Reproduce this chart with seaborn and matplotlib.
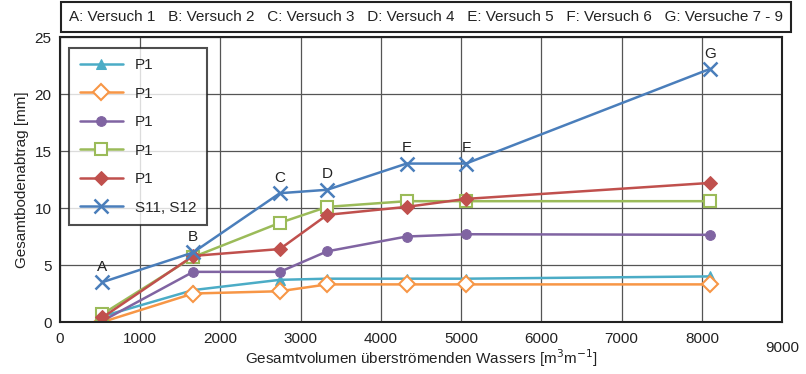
import matplotlib
matplotlib.use("Agg")
import matplotlib.pyplot as plt
import seaborn as sns
import pandas as pd

sns.set_theme(style="white")
plt.rcParams['font.family'] = ['Liberation Sans', 'DejaVu Sans']

x_vals = [530, 1660, 2740, 3330, 4320, 5060, 8100]
point_labels = ["A", "B", "C", "D", "E", "F", "G"]
series_names = ["P1", "P1 ", "P1  ", "P1   ", "P1    ", "S11, S12"]
cyan_tri = [0.5, 2.8, 3.7, 3.8, 3.8, 3.8, 4.0]
orange_dia = [0.0, 2.5, 2.7, 3.3, 3.3, 3.3, 3.3]
purple_circ = [0.1, 4.4, 4.4, 6.2, 7.5, 7.7, 7.65]
green_sq = [0.7, 5.7, 8.7, 10.1, 10.6, 10.6, 10.6]
red_dia = [0.4, 5.8, 6.4, 9.4, 10.1, 10.8, 12.2]
blue_x = [3.5, 6.1, 11.3, 11.6, 13.9, 13.9, 22.2]
header = "A: Versuch 1   B: Versuch 2   C: Versuch 3   D: Versuch 4   E: Versuch 5   F: Versuch 6   G: Versuche 7 - 9"

series = [cyan_tri, orange_dia, purple_circ, green_sq, red_dia, blue_x]
colors = ["#4BACC6", "#F79646", "#8064A2", "#9BBB59", "#C0504D", "#4A7EBB"]
markers = ["^", "D", "o", "s", "D", "x"]
filled = [True, False, True, False, True, True]
msizes = [7, 8, 7, 8, 7, 10]

fig = plt.figure(figsize=(8.06, 3.74), dpi=100)
ax = fig.add_axes([0.0744, 0.139, 0.896, 0.762])

for name, vals, c, m, f, ms in zip(series_names, series, colors, markers, filled, msizes):
    df = pd.DataFrame({"x": x_vals, "y": vals})
    kw = dict(marker=m, markersize=ms, color=c, linewidth=1.8)
    if f:
        kw.update(markerfacecolor=c, markeredgecolor=c)
        if m == "x":
            kw.update(markeredgewidth=1.8)
    else:
        kw.update(markerfacecolor="white", markeredgecolor=c, markeredgewidth=1.5)
    sns.lineplot(data=df, x="x", y="y", ax=ax, label=name.strip(), **kw)

for xv, yv, lab in zip(x_vals, blue_x, point_labels):
    ax.annotate(lab, (xv, yv), xytext=(0, 6), textcoords="offset points",
                ha="center", va="bottom", fontsize=11, color="#222222")

ax.set_xlim(0, 9000)
ax.set_ylim(0, 25)
ax.set_xticks(range(0, 9001, 1000))
ax.set_xticklabels([str(v) for v in range(0, 8001, 1000)] + [""])
ax.set_yticks(range(0, 26, 5))
ax.text(9000, -0.065, "9000", transform=ax.get_xaxis_transform(), ha="center",
        va="top", fontsize=11, color="#222222")
ax.grid(True, color="#555555", linewidth=0.9)
for s in ax.spines.values():
    s.set_color("#222222")
    s.set_linewidth(1.5)
ax.tick_params(axis="both", labelsize=11, colors="#222222", length=0, pad=6)
ax.tick_params(axis="x", pad=7)
ax.set_xlabel("Gesamtvolumen überströmenden Wassers [m$^3$m$^{-1}$]", fontsize=11, color="#222222", labelpad=1)
ax.set_ylabel("Gesamtbodenabtrag [mm]", fontsize=11, color="#222222")

leg = ax.legend(loc="upper left", fontsize=11, frameon=True, fancybox=False,
                edgecolor="#222222", borderpad=0.7, labelspacing=0.95, handlelength=2.8,
                bbox_to_anchor=(0.002, 0.99))
leg.get_frame().set_linewidth(1.5)

fig.text(0.5 * (57 + 795) / 806, 1 - 17 / 374, header, ha="center", va="center", fontsize=11,
         color="#222222",
         bbox=dict(boxstyle="square,pad=0.55", facecolor="white", edgecolor="#222222", linewidth=1.5))

fig.savefig("out.png", dpi=100)
